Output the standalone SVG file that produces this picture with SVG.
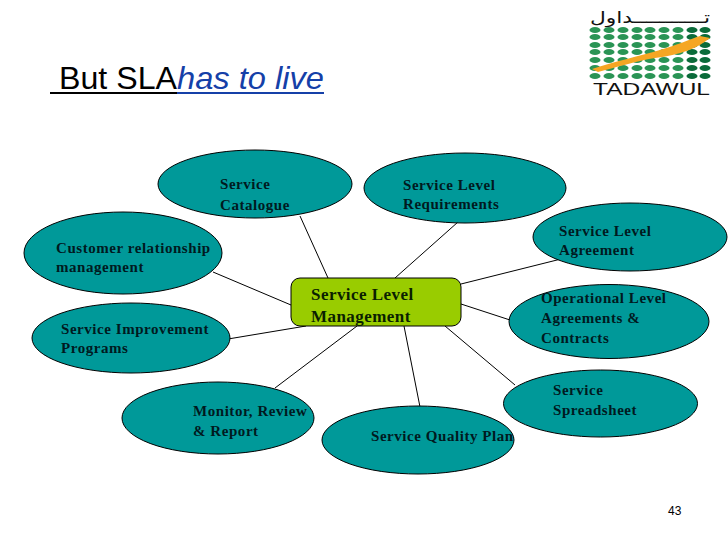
<svg xmlns="http://www.w3.org/2000/svg" width="728" height="546" viewBox="0 0 728 546">
<style>
.n{fill:#009999;stroke:#000;stroke-width:1}
.t{font:bold 15px "Liberation Serif",serif;fill:#001a1f;letter-spacing:.55px}
.m{font:bold 17px "Liberation Serif",serif;fill:#0a1f00;letter-spacing:.45px}
.c{stroke:#000;stroke-width:1;fill:none}
.d{fill:#2a9455}
.d2{fill:#0b6b3a}
</style>
<rect width="728" height="546" fill="#fff"/>
<g id="title">
<text x="59" y="89" font-family="'Liberation Sans',sans-serif" font-size="31.5" fill="#000" textLength="118" lengthAdjust="spacingAndGlyphs">But SLA</text>
<text x="177" y="89" font-family="'Liberation Sans',sans-serif" font-style="italic" font-size="31.5" fill="#1540a8" textLength="147" lengthAdjust="spacingAndGlyphs">has to live</text>
<rect x="50" y="92" width="127" height="2" fill="#000"/>
<rect x="177" y="92" width="147" height="2" fill="#1540a8"/>
</g>
<g id="logo">
<text x="590" y="23" font-family="'DejaVu Sans',sans-serif" font-size="16" fill="#111" textLength="120" lengthAdjust="spacingAndGlyphs">تـــــــــــداول</text>
<g class="d">
<ellipse cx="595" cy="30" rx="5.5" ry="3"/><ellipse cx="609" cy="30" rx="5.5" ry="3"/><ellipse cx="623" cy="30" rx="5.5" ry="3"/><ellipse cx="637" cy="30" rx="5.5" ry="3"/><ellipse cx="650" cy="30" rx="5.5" ry="3"/><ellipse cx="664" cy="30" rx="5.5" ry="3"/><ellipse cx="678" cy="30" rx="5.5" ry="3"/><ellipse cx="692" cy="30" rx="5.5" ry="3" class="d2"/><ellipse cx="705" cy="30" rx="5.5" ry="3" class="d2"/>
<ellipse cx="595" cy="37" rx="5.5" ry="3"/><ellipse cx="609" cy="37" rx="5.5" ry="3"/><ellipse cx="623" cy="37" rx="5.5" ry="3"/><ellipse cx="637" cy="37" rx="5.5" ry="3"/><ellipse cx="650" cy="37" rx="5.5" ry="3"/><ellipse cx="664" cy="37" rx="5.5" ry="3"/><ellipse cx="678" cy="37" rx="5.5" ry="3"/><ellipse cx="692" cy="37" rx="5.5" ry="3" class="d2"/><ellipse cx="705" cy="37" rx="5.5" ry="3" class="d2"/>
<ellipse cx="595" cy="45" rx="5.5" ry="3"/><ellipse cx="609" cy="45" rx="5.5" ry="3"/><ellipse cx="623" cy="45" rx="5.5" ry="3"/><ellipse cx="637" cy="45" rx="5.5" ry="3"/><ellipse cx="650" cy="45" rx="5.5" ry="3"/><ellipse cx="664" cy="45" rx="5.5" ry="3"/><ellipse cx="678" cy="45" rx="5.5" ry="3"/><ellipse cx="692" cy="45" rx="5.5" ry="3" class="d2"/><ellipse cx="705" cy="45" rx="5.5" ry="3" class="d2"/>
<ellipse cx="595" cy="52" rx="5.5" ry="3"/><ellipse cx="609" cy="52" rx="5.5" ry="3"/><ellipse cx="623" cy="52" rx="5.5" ry="3"/><ellipse cx="637" cy="52" rx="5.5" ry="3"/><ellipse cx="650" cy="52" rx="5.5" ry="3"/><ellipse cx="664" cy="52" rx="5.5" ry="3"/><ellipse cx="678" cy="52" rx="5.5" ry="3"/><ellipse cx="692" cy="52" rx="5.5" ry="3" class="d2"/><ellipse cx="705" cy="52" rx="5.5" ry="3" class="d2"/>
<ellipse cx="595" cy="60" rx="5.5" ry="3"/><ellipse cx="609" cy="60" rx="5.5" ry="3"/><ellipse cx="623" cy="60" rx="5.5" ry="3"/><ellipse cx="637" cy="60" rx="5.5" ry="3"/><ellipse cx="650" cy="60" rx="5.5" ry="3"/><ellipse cx="664" cy="60" rx="5.5" ry="3"/><ellipse cx="678" cy="60" rx="5.5" ry="3"/><ellipse cx="692" cy="60" rx="5.5" ry="3" class="d2"/><ellipse cx="705" cy="60" rx="5.5" ry="3" class="d2"/>
<ellipse cx="595" cy="68" rx="5.5" ry="3"/><ellipse cx="609" cy="68" rx="5.5" ry="3"/><ellipse cx="623" cy="68" rx="5.5" ry="3"/><ellipse cx="637" cy="68" rx="5.5" ry="3"/><ellipse cx="650" cy="68" rx="5.5" ry="3"/><ellipse cx="664" cy="68" rx="5.5" ry="3"/><ellipse cx="678" cy="68" rx="5.5" ry="3"/><ellipse cx="692" cy="68" rx="5.5" ry="3" class="d2"/><ellipse cx="705" cy="68" rx="5.5" ry="3" class="d2"/>
<ellipse cx="595" cy="76" rx="5.5" ry="3"/><ellipse cx="609" cy="76" rx="5.5" ry="3"/><ellipse cx="623" cy="76" rx="5.5" ry="3"/><ellipse cx="637" cy="76" rx="5.5" ry="3"/><ellipse cx="650" cy="76" rx="5.5" ry="3"/><ellipse cx="664" cy="76" rx="5.5" ry="3"/><ellipse cx="678" cy="76" rx="5.5" ry="3"/><ellipse cx="692" cy="76" rx="5.5" ry="3" class="d2"/><ellipse cx="705" cy="76" rx="5.5" ry="3" class="d2"/>
</g>
<path d="M592 69C612 62 640 56 660 50C675 46 690 39 700 36L710 38C698 48 680 55 655 58C635 61 615 68 598 72Z" fill="#f5a623"/>
<text x="593" y="95" font-family="'Liberation Sans',sans-serif" font-size="17" fill="#111" textLength="117" lengthAdjust="spacingAndGlyphs">TADAWUL</text>
</g>
<g id="connectors" class="c">
<path d="M300 216L328 278"/>
<path d="M458 222L395 278"/>
<path d="M565 258L461 284"/>
<path d="M510 320L461 304"/>
<path d="M515 385L445 326"/>
<path d="M420 407L404 326"/>
<path d="M275 388L357 326"/>
<path d="M228 339L306 326"/>
<path d="M213 272L291 305"/>
</g>
<g id="catalogue"><ellipse class="n" cx="255" cy="184" rx="97" ry="34"/><text class="t" x="220" y="189">Service</text><text class="t" x="220" y="210">Catalogue</text></g>
<g id="requirements"><ellipse class="n" cx="465" cy="188" rx="101" ry="35"/><text class="t" x="403" y="190">Service Level</text><text class="t" x="403" y="209">Requirements</text></g>
<g id="agreement"><ellipse class="n" cx="630" cy="237" rx="97" ry="34"/><text class="t" x="559" y="236">Service Level</text><text class="t" x="559" y="255">Agreement</text></g>
<g id="customer"><ellipse class="n" cx="123" cy="253" rx="99" ry="41"/><text class="t" x="56" y="253">Customer relationship</text><text class="t" x="56" y="272">management</text></g>
<g id="improvement"><ellipse class="n" cx="131" cy="338" rx="99" ry="35"/><text class="t" x="61" y="334">Service Improvement</text><text class="t" x="61" y="353">Programs</text></g>
<g id="operational"><ellipse class="n" cx="609" cy="321.5" rx="100" ry="37"/><text class="t" x="541" y="303">Operational Level</text><text class="t" x="541" y="323">Agreements &amp;</text><text class="t" x="541" y="343">Contracts</text></g>
<g id="spreadsheet"><ellipse class="n" cx="600.5" cy="403.5" rx="97" ry="33.5"/><text class="t" x="553" y="395">Service</text><text class="t" x="553" y="415">Spreadsheet</text></g>
<g id="monitor"><ellipse class="n" cx="218" cy="418" rx="96" ry="36"/><text class="t" x="193" y="416">Monitor, Review</text><text class="t" x="193" y="436">&amp; Report</text></g>
<g id="quality"><ellipse class="n" cx="418" cy="440" rx="96" ry="34"/><text class="t" x="371" y="441">Service Quality Plan</text></g>
<g id="management"><rect x="291" y="278" width="170" height="48" rx="9" fill="#99cc00" stroke="#000"/><text class="m" x="311" y="300">Service Level</text><text class="m" x="311" y="322">Management</text></g>
<text id="page" x="668" y="515" font-family="'Liberation Sans',sans-serif" font-size="12" fill="#000">43</text>
</svg>
